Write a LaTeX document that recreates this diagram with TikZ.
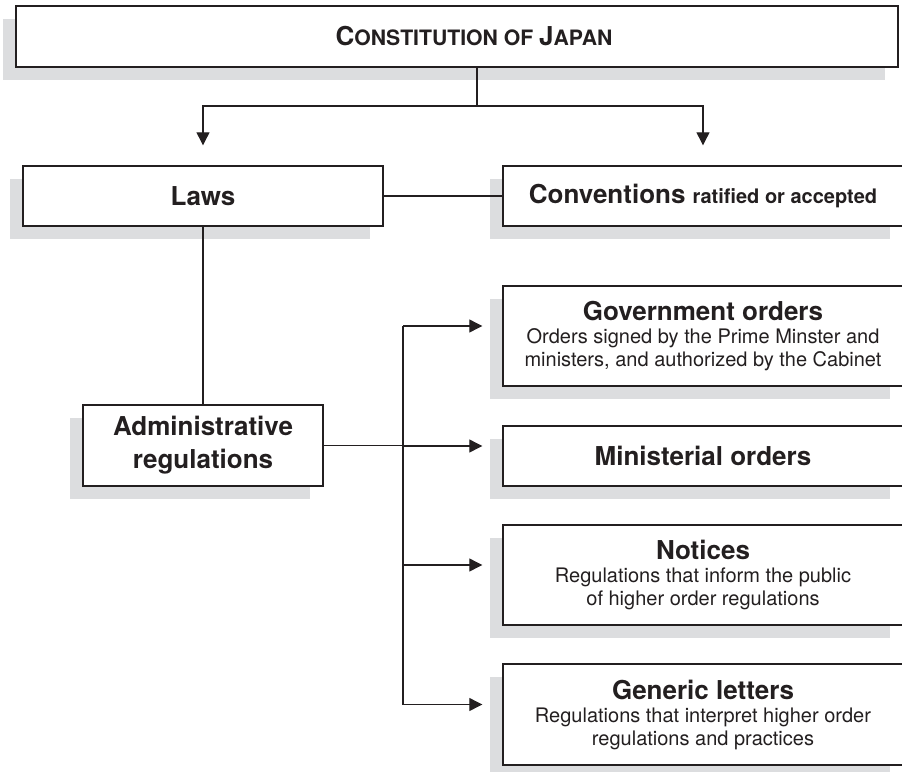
\documentclass[tikz,border=0pt]{standalone}
\usepackage{fontspec}
\setmainfont{TeX Gyre Heros}
\usetikzlibrary{arrows.meta,shadows}

\definecolor{ink}{RGB}{35,31,32}
\definecolor{boxshade}{RGB}{220,221,223}

% title and note sizes
\newcommand{\boxtitle}{\fontsize{13}{15}\selectfont\bfseries}
\newcommand{\boxnote}{\fontsize{10}{11.5}\selectfont}
\newcommand{\capl}[1]{{\fontsize{13}{15}\selectfont #1}}

\begin{document}
\begin{tikzpicture}[x=0.5pt, y=-0.5pt,
    box/.style={draw=ink, line width=0.7pt, fill=white, text=ink, inner sep=0pt,
      align=center, font=\boxnote,
      drop shadow={shadow xshift=-6.5pt, shadow yshift=-6.5pt, fill=boxshade, opacity=1}},
    regbox/.style={box, minimum width=200pt},
    link/.style={draw=ink, line width=0.6pt},
    arrow/.style={link, -{Triangle[length=6.5pt, width=6.5pt]}, shorten >=10pt}]

  % page size (pixels of the reference)
  \useasboundingbox (0,0) rectangle (902,772);

  % top box
  \node[box, minimum width=441pt, minimum height=30.5pt] (const) at (457,36.5)
    {\hspace*{17pt}{\bfseries\fontsize{10.6}{12}\selectfont\capl{C}ONSTITUTION OF \capl{J}APAN}};

  % laws and conventions
  \node[box, minimum width=180pt, minimum height=30pt] (laws) at (203,196) {\boxtitle Laws};
  \node[regbox, minimum height=30pt] (conv) at (703,196)
    {\boxtitle Conventions {\fontsize{10}{12}\selectfont ratified or accepted}};

  \node[box, minimum width=120pt, minimum height=40.5pt,
    font=\fontsize{13}{16.5}\selectfont\bfseries] (admin) at (203,445.5)
    {Administrative\\ regulations};

  % regulations column
  \node[regbox, minimum height=50pt] (gov) at (703,336)
    {{\boxtitle Government orders}\\ Orders signed by the Prime Minster and\\ ministers, and authorized by the Cabinet};
  \node[regbox, minimum height=30pt] (min) at (703,456) {\boxtitle Ministerial orders};
  \node[regbox, minimum height=50pt] (notices) at (703,575)
    {{\boxtitle Notices}\\ Regulations that inform the public\\ of higher order regulations};
  \node[regbox, minimum height=50.5pt] (generic) at (703,714.5)
    {{\boxtitle Generic letters}\\ Regulations that interpret higher order\\ regulations and practices};

  % constitution splits in two
  \coordinate (split) at (477,106);
  \draw[link] (const.south -| split) -- (split);
  \draw[arrow] (split) -| (laws);
  \draw[arrow] (split) -| (conv);
  \draw[link] (laws) -- (conv);
  \draw[link] (laws) -- (admin);

  % bus from administrative regulations
  \coordinate (bus) at (403,445);
  \foreach \reg in {gov,min,notices,generic}
    \coordinate (\reg-in) at ([yshift=5pt]\reg.west);
  \draw[link] (gov-in -| bus) -- (generic-in -| bus);
  \draw[link] (admin) -- (admin -| bus);
  \foreach \reg in {gov,min,notices,generic}
    \draw[arrow] (\reg-in -| bus) -- (\reg-in);
\end{tikzpicture}
\end{document}
